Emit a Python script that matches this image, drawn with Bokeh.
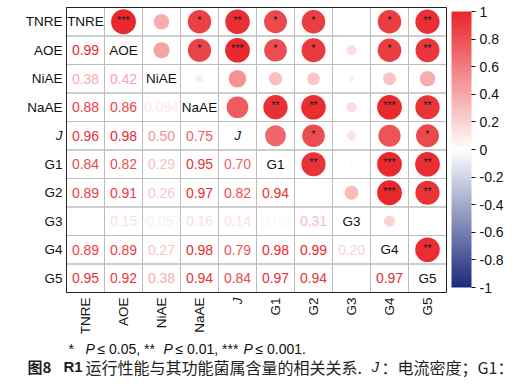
import numpy as np
from bokeh.plotting import figure
from bokeh.models import (Range1d, FixedTicker, ColumnDataSource, LinearColorMapper,
                          ColorBar, Label)
from bokeh.embed import file_html
from bokeh.resources import INLINE
from bokeh.core.properties import value

# ---------------- data ----------------
names = ["TNRE", "AOE", "NiAE", "NaAE", "J", "G1", "G2", "G3", "G4", "G5"]
diag_labels = ["TNRE", "AOE", "NiAE", "NaAE", "J", "G1", "", "G3", "G4", "G5"]

# lower triangle correlation coefficients (row i, columns 0..i-1)
r_AOE = [0.99]
r_NiAE = [0.38, 0.42]
r_NaAE = [0.88, 0.86, 0.094]
r_J = [0.96, 0.98, 0.50, 0.75]
r_G1 = [0.84, 0.82, 0.29, 0.95, 0.70]
r_G2 = [0.89, 0.91, 0.26, 0.97, 0.82, 0.94]
r_G3 = [0.003, 0.15, -0.057, 0.16, 0.14, 0.03, 0.31]
r_G4 = [0.89, 0.89, 0.27, 0.98, 0.79, 0.98, 0.99, 0.20]
r_G5 = [0.95, 0.92, 0.38, 0.94, 0.84, 0.97, 0.94, 0.012, 0.97]
lower = [[], r_AOE, r_NiAE, r_NaAE, r_J, r_G1, r_G2, r_G3, r_G4, r_G5]

# significance stars (same layout)
s_AOE = ["***"]
s_NiAE = ["", ""]
s_NaAE = ["*", "*", ""]
s_J = ["**", "***", "", ""]
s_G1 = ["*", "*", "", "**", ""]
s_G2 = ["*", "*", "", "**", "*", "**"]
s_G3 = ["", "", "", "", "", "", ""]
s_G4 = ["*", "*", "", "***", "", "***", "***", ""]
s_G5 = ["**", "**", "", "**", "*", "**", "**", "", "**"]
stars = [[], s_AOE, s_NiAE, s_NaAE, s_J, s_G1, s_G2, s_G3, s_G4, s_G5]

cb_ticks = [-1, -0.8, -0.6, -0.4, -0.2, 0, 0.2, 0.4, 0.6, 0.8, 1]
cb_labels = ["-1", "-0.8", "-0.6", "-0.4", "-0.2", "0", "0.2", "0.4", "0.6", "0.8", "1"]

# ---------------- colours ----------------
NEG = (0x1B, 0x2A, 0x7C)
POS = (0xE8, 0x26, 0x2A)


def col(v):
    v = max(-1.0, min(1.0, v))
    end = POS if v >= 0 else NEG
    t = abs(v)
    rgb = [round(255 + t * (e - 255)) for e in end]
    return "#%02x%02x%02x" % tuple(rgb)


palette = [col(v) for v in np.linspace(-1, 1, 256)]


def fmt(v):
    return f"{v:.2f}" if abs(v) >= 0.1 else f"{v:.2g}"


n = len(names)
num = dict(x=[], y=[], text=[], color=[])
circ = dict(x=[], y=[], size=[], color=[], star=[])
cells = dict(x=[], y=[])
for i in range(n):
    for j in range(n):
        cells["x"].append(j + 0.5); cells["y"].append(i + 0.5)
        if j < i:
            v = lower[i][j]
            num["x"].append(j + 0.5); num["y"].append(i + 0.5)
            num["text"].append(fmt(v)); num["color"].append(col(v))
        elif j > i:
            v = lower[j][i]
            circ["x"].append(j + 0.5); circ["y"].append(i + 0.5)
            circ["size"].append(25 * np.sqrt(abs(v))); circ["color"].append(col(v))
            circ["star"].append(stars[j][i])

diag_n = dict(x=[], y=[], text=[])
diag_i = dict(x=[], y=[], text=[])
for i, lab in enumerate(diag_labels):
    d = diag_i if lab == "J" else diag_n
    d["x"].append(i + 0.5); d["y"].append(i + 0.5); d["text"].append(lab)

ax_n = dict(pos=[], edge=[], text=[])
ax_i = dict(pos=[], edge=[], text=[])
for i, nm in enumerate(names):
    d = ax_i if nm == "J" else ax_n
    d["pos"].append(i + 0.5); d["edge"].append(n); d["text"].append(nm)

FONT = "Liberation Sans"
W, H = 523, 378
PANEL_L, PANEL_T = 66, 7          # panel position in the canvas (px)
CELL_W, CELL_H = 38, 28.5          # cell size (px)

p = figure(width=W, height=H, output_backend="svg", toolbar_location=None,
           x_range=Range1d(-PANEL_L / CELL_W, (W - PANEL_L) / CELL_W),
           y_range=Range1d((H - PANEL_T) / CELL_H, -PANEL_T / CELL_H),
           min_border=0, min_border_left=0, min_border_right=0,
           min_border_top=0, min_border_bottom=0)
p.axis.visible = False
p.grid.visible = False
p.outline_line_color = None
p.background_fill_color = "white"
p.border_fill_color = "white"

# cell borders and panel outline
p.rect("x", "y", width=1, height=1, source=ColumnDataSource(cells),
       fill_color=None, line_color="#bdbdbd", line_width=1)
p.rect(x=[n / 2], y=[n / 2], width=n, height=n, fill_color=None,
       line_color="#222222", line_width=1)

# circles + stars
cs = ColumnDataSource(circ)
p.scatter("x", "y", size="size", fill_color="color", line_color=None, source=cs)
p.text("x", "y", text="star", source=cs, text_align="center", text_baseline="middle",
       y_offset=-2, text_font=value(FONT), text_font_size="10.5px", text_color="#1a1a1a")

# numbers
p.text("x", "y", text="text", color="color", source=ColumnDataSource(num),
       text_align="center", text_baseline="middle",
       text_font=value(FONT), text_font_size="14px")

# diagonal names
p.text("x", "y", text="text", source=ColumnDataSource(diag_n),
       text_align="center", text_baseline="middle", text_color="#111111",
       text_font=value(FONT), text_font_size="13.5px")
p.text("x", "y", text="text", source=ColumnDataSource(diag_i),
       text_align="center", text_baseline="middle", text_color="#111111",
       text_font=value(FONT), text_font_size="13.5px", text_font_style="italic")

# axis labels (left and bottom)
for src, style in ((ax_n, "normal"), (ax_i, "italic")):
    s = ColumnDataSource(src)
    p.text(x=0, y="pos", text="text", source=s, x_offset=-4,
           text_align="right", text_baseline="middle", text_color="#111111",
           text_font=value(FONT), text_font_size="13.5px", text_font_style=style)
    p.text(x="pos", y="edge", text="text", source=s, y_offset=5, angle=np.pi / 2,
           text_align="right", text_baseline="middle", text_color="#111111",
           text_font=value(FONT), text_font_size="13.5px", text_font_style=style)

# colour bar
mapper = LinearColorMapper(palette=palette, low=-1, high=1)
cb = ColorBar(color_mapper=mapper, ticker=FixedTicker(ticks=cb_ticks),
              major_label_overrides={t: s for t, s in zip(cb_ticks, cb_labels)},
              width=20, height=276, padding=0, margin=0, location=(451, 91),
              bar_line_color=None, border_line_color=None, background_fill_alpha=0,
              major_tick_in=0, major_tick_out=4, major_tick_line_color="#111111",
              minor_tick_line_color=None, label_standoff=4,
              major_label_text_font=FONT, major_label_text_font_size="14px",
              major_label_text_color="#111111")
p.add_layout(cb)


def lab(x, y, text, size="14px", style="normal", font=FONT, color="#111111"):
    p.add_layout(Label(x=x, y=y, x_units="screen", y_units="screen", text=text,
                       text_align="left", text_baseline="middle", text_font=font,
                       text_font_size=size, text_font_style=style, text_color=color))


# footnote
fy = H - 348
lab(68, fy, "*")
lab(85, fy, "P", style="italic")
lab(97, fy, "≤ 0.05, **")
lab(163, fy, "P", style="italic")
lab(175, fy, "≤ 0.01, ***")
lab(243, fy, "P", style="italic")
lab(255, fy, "≤ 0.001.")

# caption
CJK = "Noto Sans CJK SC"
cy = H - 366
cap_color = "#231f20"
lab(27, cy, "图8", size="15px", style="bold", font=CJK, color=cap_color)
lab(63, cy, "R1", size="15px", style="bold", font=FONT, color=cap_color)
lab(85, cy, "运行性能与其功能菌属含量的相关关系.", size="16px", font=CJK, color=cap_color)
lab(371, cy, "J", size="15px", style="italic", font=FONT, color=cap_color)
lab(381, cy, "：电流密度；G1：", size="16px", font=CJK, color=cap_color)

open("out.html", "w").write(file_html(p, INLINE))
